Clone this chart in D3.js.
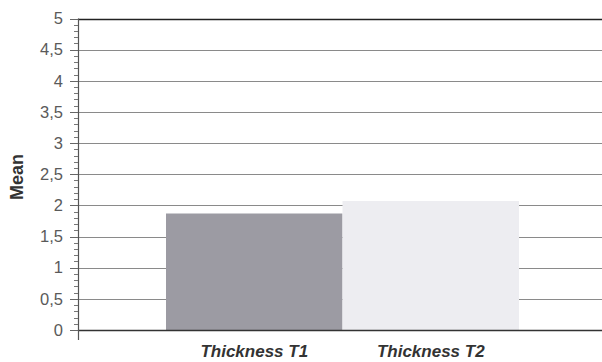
<!DOCTYPE html>
<html>
<head>
<meta charset="utf-8">
<script src="https://cdn.jsdelivr.net/npm/d3@7"></script>
<style>
  html, body { margin: 0; padding: 0; background: #fff; }
  svg { display: block; }
</style>
</head>
<body>
<svg id="chart" width="602" height="362"></svg>
<script>
// Mean thickness per measurement
const categories = ["Thickness T1", "Thickness T2"];
const means = [1.87, 2.07];
const barColors = ["#9c9ba3", "#ededf1"];
const yTicks = [0, 0.5, 1, 1.5, 2, 2.5, 3, 3.5, 4, 4.5, 5];
const yTickLabels = ["0", "0,5", "1", "1,5", "2", "2,5", "3", "3,5", "4", "4,5", "5"];
const yMinorTicks = d3.range(0, 50).map(i => i / 10);

const svg = d3.select("#chart");
const W = 602, H = 362;
const axisX = 78;

const y = d3.scaleLinear().domain([0, 5]).range([330, 18.5]);
const x = d3.scaleBand().domain(categories).range([166, 519]).padding(0);

// horizontal gridlines
svg.append("g").selectAll("line").data(yTicks.filter(d => d > 0)).join("line")
  .attr("x1", axisX).attr("x2", W)
  .attr("y1", d => Math.round(y(d)) + 0.5).attr("y2", d => Math.round(y(d)) + 0.5)
  .attr("stroke", d => d === 5 ? "#222" : "#8a8a8a")
  .attr("stroke-width", d => d === 5 ? 1.6 : 1.2);

// bars
svg.append("g").selectAll("rect").data(means).join("rect")
  .attr("x", (d, i) => x(categories[i]))
  .attr("width", x.bandwidth())
  .attr("y", d => y(d))
  .attr("height", d => y(0) - y(d))
  .attr("fill", (d, i) => barColors[i]);

// baseline
svg.append("line")
  .attr("x1", axisX).attr("x2", W)
  .attr("y1", Math.round(y(0)) + 0.5).attr("y2", Math.round(y(0)) + 0.5)
  .attr("stroke", "#333").attr("stroke-width", 1.3);

// y axis with minor ticks
const axis = svg.append("g").attr("transform", `translate(${axisX},0)`);
axis.append("line").attr("x1", 0.5).attr("x2", 0.5)
  .attr("y1", y(5)).attr("y2", y(0) + 10)
  .attr("stroke", "#555").attr("stroke-width", 1.2);
axis.selectAll("line.minor").data(yMinorTicks).join("line").attr("class", "minor")
  .attr("x1", -4).attr("x2", 0)
  .attr("y1", d => Math.round(y(d)) + 0.5).attr("y2", d => Math.round(y(d)) + 0.5)
  .attr("stroke", "#777").attr("stroke-width", 1);
axis.selectAll("line.major").data(yTicks).join("line").attr("class", "major")
  .attr("x1", -8).attr("x2", 0)
  .attr("y1", d => Math.round(y(d)) + 0.5).attr("y2", d => Math.round(y(d)) + 0.5)
  .attr("stroke", "#666").attr("stroke-width", 1);
axis.selectAll("text").data(yTicks).join("text")
  .attr("x", -15).attr("y", d => y(d))
  .attr("dy", "0.35em").attr("text-anchor", "end")
  .attr("font-family", "Liberation Sans, Arial, sans-serif")
  .attr("font-size", 16.5).attr("fill", "#5a5a5a")
  .text((d, i) => yTickLabels[i]);

// category labels
svg.append("g").selectAll("text").data(categories).join("text")
  .attr("x", d => x(d) + x.bandwidth() / 2)
  .attr("y", 357)
  .attr("text-anchor", "middle")
  .attr("font-family", "Liberation Sans, Arial, sans-serif")
  .attr("font-size", 17).attr("font-weight", "bold").attr("font-style", "italic")
  .attr("fill", "#333")
  .text(d => d);

// y axis title
svg.append("text")
  .attr("transform", `translate(23,177) rotate(-90)`)
  .attr("text-anchor", "middle")
  .attr("font-family", "Liberation Sans, Arial, sans-serif")
  .attr("font-size", 18).attr("font-weight", "bold").attr("fill", "#333")
  .text("Mean");
</script>
</body>
</html>
